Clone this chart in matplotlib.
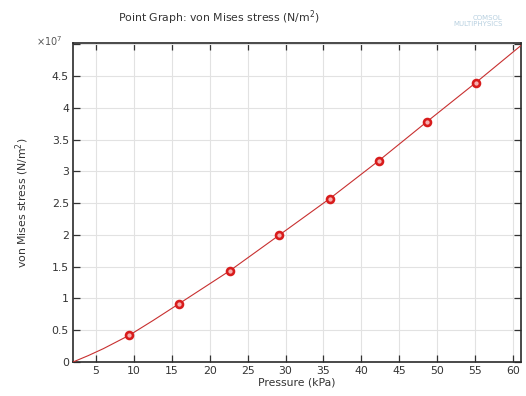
import matplotlib.pyplot as plt

# sampled points (kPa, 1e7 N/m^2)
pressure = [9.4, 16.0, 22.7, 29.2, 35.8, 42.3, 48.6, 55.1]
stress = [0.42, 0.92, 1.44, 2.00, 2.57, 3.17, 3.78, 4.40]

# continuous solution curve
curve_p = [2.0, 4.0, 6.0, 9.4, 12.5, 16.0, 22.7, 29.2, 35.8, 42.3, 48.6, 55.1, 61.0]
curve_s = [0.0, 0.10, 0.21, 0.42, 0.65, 0.92, 1.44, 2.00, 2.57, 3.17, 3.78, 4.40, 4.98]

xticks = [5, 10, 15, 20, 25, 30, 35, 40, 45, 50, 55, 60]
yticks = [0, 0.5, 1, 1.5, 2, 2.5, 3, 3.5, 4, 4.5, 5]
ytick_labels = ['0', '0.5', '1', '1.5', '2', '2.5', '3', '3.5', '4', '4.5', '']

fig = plt.figure(figsize=(5.26, 3.96), dpi=100)
ax = fig.add_axes([0.139, 0.086, 0.851, 0.805])

ax.plot(curve_p, curve_s, color='#c83030', lw=0.8, zorder=3)
ax.plot(pressure, stress, 'o', ms=5, mfc='#f6b0b0', mec='#d81c1c', mew=1.9, zorder=4)

ax.set_xlim(2, 61)
ax.set_ylim(0, 5.02)
ax.set_xticks(xticks)
ax.set_yticks(yticks)
ax.set_yticklabels(ytick_labels)
ax.tick_params(direction='in', top=True, right=True, length=5, width=0.9,
               labelsize=7.8, colors='#333333', pad=3)
ax.grid(True, color='#e2e2e2', lw=0.8)
ax.set_axisbelow(True)
for s in ax.spines.values():
    s.set_color('#2a2a2a')
    s.set_linewidth(1.2)

ax.set_xlabel('Pressure (kPa)', fontsize=7.8, color='#333333', labelpad=1)
ax.set_ylabel('von Mises stress (N/m$^2$)', fontsize=7.8, color='#333333', labelpad=15)

fig.text(0.416, 0.955, 'Point Graph: von Mises stress (N/m$^2$)', ha='center', va='center',
         fontsize=7.8, color='#333333')
fig.text(0.118, 0.88, r'$\times10^7$', ha='right', va='bottom', fontsize=7, color='#555555')
fig.text(0.955, 0.948, 'COMSOL\nMULTIPHYSICS', ha='right', va='center', fontsize=5,
         color='#b8d0e0', linespacing=1.0)

fig.savefig('out.png', dpi=100)
